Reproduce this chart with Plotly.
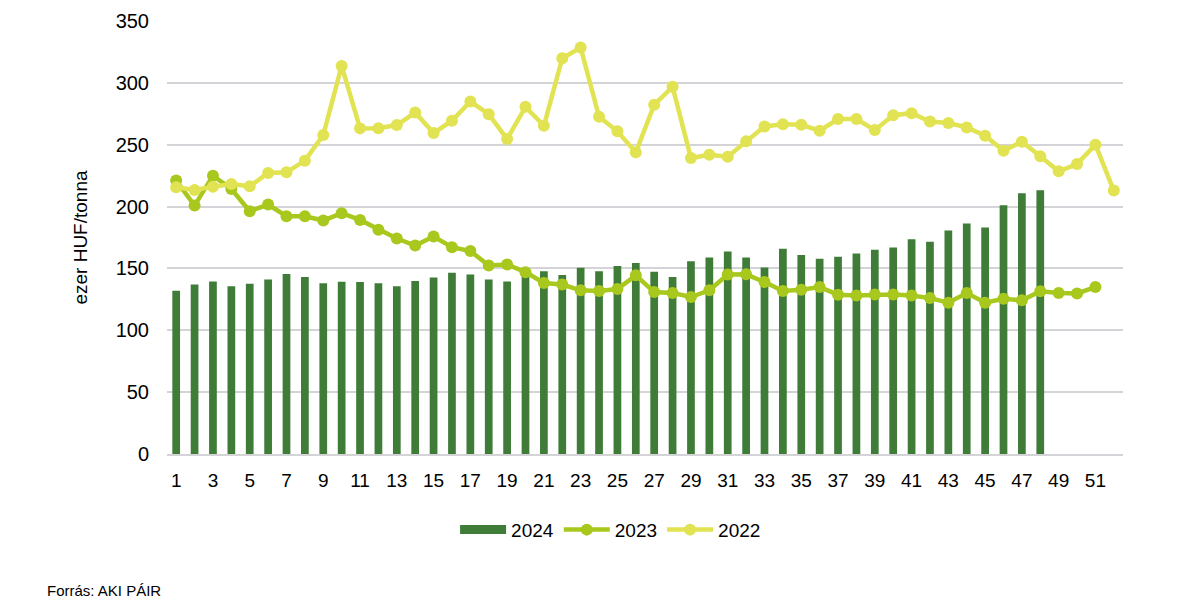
import plotly.graph_objects as go

weeks_2024 = list(range(1, 49))
values_2024 = [132, 137, 139.5, 135.5, 137.6, 141, 145.4, 143, 138, 139.2,
               139, 138, 135.5, 139.8, 142.7, 146.5, 145, 141, 139.5, 148,
               147.8, 144.6, 150.5, 147.8, 151.9, 154.3, 147.3, 143, 155.9, 158.9,
               163.7, 158.9, 150.8, 165.9, 160.8, 157.8, 159.4, 162.1, 165.1, 166.9,
               173.6, 171.5, 180.6, 186.3, 183, 201, 210.8, 213.2]

weeks_2023 = list(range(1, 52))
values_2023 = [221, 200.8, 225, 214.2, 196.2, 201.6, 192.2, 192.2, 188.7, 194.6,
               189.2, 181.2, 174.2, 168.5, 175.8, 167.2, 164, 152.4, 153.2, 147,
               138.2, 137, 132.3, 131.7, 133.3, 144.4, 130.9, 130.1, 126.9, 132.3,
               145, 145.2, 139, 131.7, 132.8, 134.9, 128.8, 128.2, 129, 129,
               128.2, 126, 122.3, 130.1, 122.3, 125.5, 124.2, 131.5, 130.1, 129.8,
               134.9]

weeks_2022 = list(range(1, 53))
values_2022 = [215.6, 213.4, 216.1, 218.3, 216.4, 227.2, 227.7, 237.1, 257.8, 313.7,
               263.2, 263.4, 265.9, 276, 259.4, 269.4, 284.9, 274.7, 254.6, 280.6,
               265.3, 319.9, 328.5, 272.6, 260.8, 243.8, 282.3, 296.8, 239.2, 241.9,
               240.3, 252.7, 264.8, 266.6, 266.1, 261.3, 270.7, 270.7, 261.8, 273.9,
               275.5, 268.8, 267.5, 264, 257.3, 245.2, 252.4, 240.6, 228.5, 234.4,
               250, 212.9]

x_tick_vals = list(range(1, 52, 2))
y_tick_vals = [0, 50, 100, 150, 200, 250, 300, 350]

FONT = "Liberation Sans, Arial, sans-serif"
C2024 = "#3f7c38"
C2023 = "#a8c81e"
C2022 = "#e1e352"

PLOT_W = 956
PLOT_H = 433

fig = go.Figure()
fig.add_trace(go.Bar(x=weeks_2024, y=values_2024, name="2024", showlegend=False,
                     marker=dict(color=C2024, line=dict(width=0)), width=0.42))
# legend entry for the bars drawn as a wide flat block, like the original
fig.add_trace(go.Scatter(x=[None], y=[None], name="2024", mode="lines",
                         line=dict(color=C2024, width=9), hoverinfo="skip"))
fig.add_trace(go.Scatter(x=weeks_2023, y=values_2023, name="2023", mode="lines+markers",
                         line=dict(color=C2023, width=4.5),
                         marker=dict(color=C2023, size=12)))
fig.add_trace(go.Scatter(x=weeks_2022, y=values_2022, name="2022", mode="lines+markers",
                         line=dict(color=C2022, width=4.5),
                         marker=dict(color=C2022, size=12)))

# page has an 8px body margin: figure placed at (8, 8)
fig.update_layout(
    width=1190, height=605,
    margin=dict(l=159, r=1190 - 159 - PLOT_W, t=13, b=605 - 13 - PLOT_H),
    paper_bgcolor="white", plot_bgcolor="white",
    font=dict(family=FONT, size=20, color="#000000"),
    legend=dict(orientation="h", x=0.464, y=-0.175, xanchor="center", yanchor="middle",
                font=dict(size=19), itemwidth=46, traceorder="normal"),
    showlegend=True,
    annotations=[dict(text="Forrás: AKI PÁIR", xref="paper", yref="paper",
                      x=(45 - 167) / PLOT_W, y=(454 - 590) / PLOT_H,
                      xanchor="left", yanchor="middle", showarrow=False,
                      font=dict(size=15, family=FONT, color="#000000"))],
)
fig.update_xaxes(range=[0.5, 52.5], tickmode="array", tickvals=x_tick_vals,
                 ticktext=[str(v) for v in x_tick_vals], showgrid=False,
                 showline=True, linecolor="#d4d4d8", linewidth=1.5,
                 ticks="outside", ticklen=8, tickcolor="rgba(0,0,0,0)",
                 tickfont=dict(size=19), zeroline=False, automargin=False)
fig.update_yaxes(range=[0, 350], tickmode="array", tickvals=y_tick_vals,
                 showgrid=True, gridcolor="#d4d4d8", gridwidth=1.5, zeroline=False,
                 title=dict(text="ezer HUF/tonna", font=dict(size=19), standoff=22),
                 ticks="outside", ticklen=13, tickcolor="rgba(0,0,0,0)",
                 tickfont=dict(size=20), showline=False, automargin=False)

fig.write_html("out.html")
